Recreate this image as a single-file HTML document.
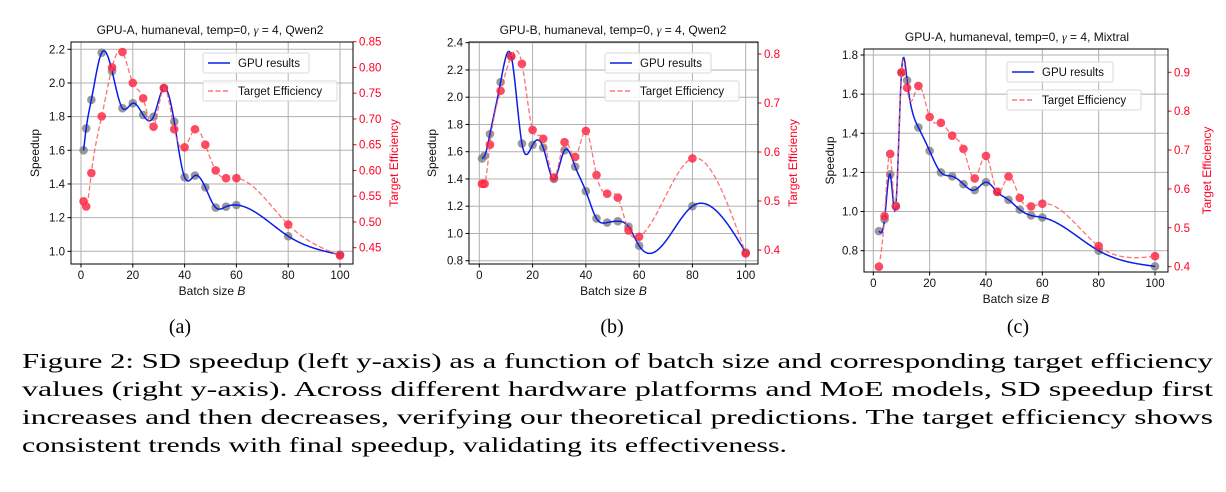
<!DOCTYPE html>
<html><head><meta charset="utf-8">
<style>
html,body{margin:0;padding:0;background:#fff;}
body{width:1226px;height:492px;position:relative;overflow:hidden;}
svg{position:absolute;left:0;top:0;}
</style></head><body>
<svg id="fig" width="1226" height="492" font-family="Liberation Sans, sans-serif">
<g font-family="Liberation Serif, serif" font-size="21" fill="#000">
<text x="22" y="368" textLength="1191" lengthAdjust="spacingAndGlyphs">Figure 2: SD speedup (left y-axis) as a function of batch size and corresponding target efficiency</text>
<text x="22" y="396" textLength="1191" lengthAdjust="spacingAndGlyphs">values (right y-axis).  Across different hardware platforms and MoE models, SD speedup first</text>
<text x="22" y="424" textLength="1191" lengthAdjust="spacingAndGlyphs">increases and then decreases, verifying our theoretical predictions.  The target efficiency shows</text>
<text x="22" y="452" textLength="765" lengthAdjust="spacingAndGlyphs">consistent trends with final speedup, validating its effectiveness.</text>
</g>
</svg>
<script>
// Chart (a)
const batchA = [1,2,4,8,12,16,20,24,28,32,36,40,44,48,52,56,60,80,100];
const speedA = [1.6,1.73,1.9,2.18,2.07,1.85,1.88,1.81,1.8,1.97,1.77,1.44,1.45,1.38,1.26,1.265,1.275,1.09,0.98];
const effA = [0.54,0.53,0.595,0.705,0.8,0.83,0.77,0.74,0.685,0.76,0.68,0.645,0.68,0.65,0.6,0.585,0.585,0.495,0.435];
const leftTicksA = [1.0,1.2,1.4,1.6,1.8,2.0,2.2];
const rightTicksA = [0.45,0.50,0.55,0.60,0.65,0.70,0.75,0.80,0.85];
// Chart (b)
const batchB = [1,2,4,8,12,16,20,24,28,32,36,40,44,48,52,56,60,80,100];
const speedB = [1.55,1.57,1.73,2.11,2.3,1.66,1.65,1.63,1.4,1.61,1.49,1.31,1.11,1.08,1.09,1.05,0.91,1.2,0.86];
const effB = [0.535,0.535,0.615,0.725,0.795,0.78,0.645,0.627,0.548,0.62,0.59,0.643,0.553,0.515,0.507,0.44,0.427,0.587,0.393];
const leftTicksB = [0.8,1.0,1.2,1.4,1.6,1.8,2.0,2.2,2.4];
const rightTicksB = [0.4,0.5,0.6,0.7,0.8];
// Chart (c)
const batchC = [2,4,6,8,10,12,16,20,24,28,32,36,40,44,48,52,56,60,80,100];
const speedC = [0.9,0.96,1.19,1.03,1.71,1.67,1.43,1.31,1.2,1.18,1.14,1.11,1.15,1.1,1.06,1.01,0.98,0.97,0.8,0.72];
const effC = [0.4,0.53,0.69,0.555,0.9,0.86,0.865,0.785,0.77,0.737,0.703,0.627,0.685,0.593,0.632,0.577,0.555,0.562,0.453,0.427];
const leftTicksC = [0.8,1.0,1.2,1.4,1.6,1.8];
const rightTicksC = [0.4,0.5,0.6,0.7,0.8,0.9];
const xTicks = [0,20,40,60,80,100];

const NS='http://www.w3.org/2000/svg';
const svg=document.getElementById('fig');
function mk(tag,attrs,parent,text){const e=document.createElementNS(NS,tag);for(const k in attrs)e.setAttribute(k,attrs[k]);if(text!==undefined)e.textContent=text;(parent||svg).appendChild(e);return e;}

function spline(xs,ys){
  const n=xs.length,h=[],al=[],l=[1],mu=[0],z=[0],c=new Array(n).fill(0),b=[],d=[];
  for(let i=0;i<n-1;i++)h.push(xs[i+1]-xs[i]);
  for(let i=1;i<n-1;i++)al[i]=3/h[i]*(ys[i+1]-ys[i])-3/h[i-1]*(ys[i]-ys[i-1]);
  for(let i=1;i<n-1;i++){l[i]=2*(xs[i+1]-xs[i-1])-h[i-1]*mu[i-1];mu[i]=h[i]/l[i];z[i]=(al[i]-h[i-1]*z[i-1])/l[i];}
  for(let j=n-2;j>=1;j--)c[j]=z[j]-mu[j]*c[j+1];
  for(let j=0;j<n-1;j++){b[j]=(ys[j+1]-ys[j])/h[j]-h[j]*(c[j+1]+2*c[j])/3;d[j]=(c[j+1]-c[j])/(3*h[j]);}
  return x=>{let j=0;while(j<n-2&&x>xs[j+1])j++;const t=x-xs[j];return ys[j]+b[j]*t+c[j]*t*t+d[j]*t*t*t;};
}
function fmt(v,dec){return v.toFixed(dec);}

function chart(cfg){
  const g=mk('g',{},svg);
  
  
  const X=v=>cfg.x0+(v-0)*(cfg.x100-cfg.x0)/100;
  const YL=v=>cfg.ly1+(v-cfg.lv1)*(cfg.ly2-cfg.ly1)/(cfg.lv2-cfg.lv1);
  const YR=v=>cfg.ry1+(v-cfg.rv1)*(cfg.ry2-cfg.ry1)/(cfg.rv2-cfg.rv1);
  const {l,t,r,b}=cfg.box;
  cfg.xt.forEach(v=>{const gl=mk('line',{x1:X(v),x2:X(v),y1:t,y2:b,stroke:'#b0b0b0','stroke-width':1},g);});
  cfg.lt.forEach(v=>{const gl=mk('line',{x1:l,x2:r,y1:YL(v),y2:YL(v),stroke:'#b0b0b0','stroke-width':1},g);});
  const ti=mk('text',{x:cfg.tx,y:cfg.ty,'text-anchor':'middle','font-size':12,fill:'#111'},g);
  
  ti.innerHTML=cfg.title1+'<tspan font-family="Liberation Serif, serif" font-style="italic">γ</tspan> = 4, '+cfg.title2;
  cfg.xt.forEach(v=>{mk('line',{x1:X(v),x2:X(v),y1:b,y2:b+3.5,stroke:'#000'},g);const tl=mk('text',{x:X(v),y:b+15,'text-anchor':'middle','font-size':11.5,fill:'#111'},g,String(v));});
  cfg.lt.forEach(v=>{mk('line',{x1:l-3.5,x2:l,y1:YL(v),y2:YL(v),stroke:'#000'},g);const tl=mk('text',{x:l-6,y:YL(v)+4,'text-anchor':'end','font-size':11.5,fill:'#111'},g,fmt(v,1));});
  cfg.rt.forEach(v=>{mk('line',{x1:r,x2:r+3.5,y1:YR(v),y2:YR(v),stroke:'#ff0022'},g);const tl=mk('text',{x:r+6,y:YR(v)+4,'text-anchor':'start','font-size':11.5,fill:'#ff0022'},g,fmt(v,cfg.rdec));});
  const xl=mk('text',{x:(l+r)/2,y:b+31,'text-anchor':'middle','font-size':12,fill:'#111'},g);
  xl.innerHTML='Batch size <tspan font-style="italic">B</tspan>';
  
  const yl=mk('text',{transform:`translate(${cfg.ylx},${(t+b)/2}) rotate(-90)`,'text-anchor':'middle','font-size':12,fill:'#111'},g,'Speedup');
  
  const yr=mk('text',{transform:`translate(${cfg.yrx},${(t+b)/2+10}) rotate(-90)`,'text-anchor':'middle','font-size':12,fill:'#ff0022'},g,'Target Efficiency');
  
  const xs=cfg.bx, sp=spline(xs,cfg.sp), ef=spline(xs,cfg.ef);
  let dS='',dE='';
  for(let k=0;k<=400;k++){const v=xs[0]+(xs[xs.length-1]-xs[0])*k/400;dS+=(k?'L':'M')+X(v).toFixed(2)+','+YL(sp(v)).toFixed(2);dE+=(k?'L':'M')+X(v).toFixed(2)+','+YR(ef(v)).toFixed(2);}
  const clip='clip-'+cfg.name;
  const cp=mk('clipPath',{id:clip},g);mk('rect',{x:l,y:t,width:r-l,height:b-t},cp);
  xs.forEach((v,i)=>{const c=mk('circle',{cx:X(v),cy:YL(cfg.sp[i]),r:4.3,fill:'#808080','fill-opacity':0.8},g);});
  const bl=mk('path',{d:dS,fill:'none',stroke:'#0a1ee6','stroke-width':1.5,'clip-path':`url(#${clip})`},g);
  
  xs.forEach((v,i)=>{const c=mk('circle',{cx:X(v),cy:YR(cfg.ef[i]),r:4.3,fill:'#ff1a3c','fill-opacity':0.8},g);});
  const rl=mk('path',{d:dE,fill:'none',stroke:'#ff5a5a','stroke-opacity':0.85,'stroke-width':1.3,'stroke-dasharray':'5,2.5','clip-path':`url(#${clip})`},g);
  
  mk('rect',{x:l,y:t,width:r-l,height:b-t,fill:'none',stroke:'#000','stroke-width':1},g);
  const L=cfg.leg;
  const l1=mk('g',{},g);
  mk('rect',{x:L[0],y:L[1],width:106,height:20,rx:2,fill:'#fff','fill-opacity':0.85,stroke:'#d8d8d8'},l1);
  mk('line',{x1:L[0]+5,x2:L[0]+27,y1:L[1]+10,y2:L[1]+10,stroke:'#0a1ee6','stroke-width':1.5},l1);
  mk('text',{x:L[0]+35,y:L[1]+14,'font-size':11.5,fill:'#111'},l1,'GPU results');
  const l2=mk('g',{},g);
  mk('rect',{x:L[0],y:L[1]+28,width:134,height:20,rx:2,fill:'#fff','fill-opacity':0.85,stroke:'#d8d8d8'},l2);
  mk('line',{x1:L[0]+5,x2:L[0]+27,y1:L[1]+38,y2:L[1]+38,stroke:'#ff5a5a','stroke-width':1.3,'stroke-dasharray':'5,2.5'},l2);
  mk('text',{x:L[0]+35,y:L[1]+42,'font-size':11.5,fill:'#111'},l2,'Target Efficiency');
  const sl=mk('text',{x:cfg.subx,y:333,'text-anchor':'middle','font-size':20,'font-family':'Liberation Serif, serif',fill:'#000'},svg,cfg.sub);
  
}
chart({name:'chart-a',box:{l:71,t:42,r:353,b:264},x0:81,x100:340,lv1:1.0,ly1:251.3,lv2:2.2,ly2:49.3,rv1:0.45,ry1:247.7,rv2:0.85,ry2:41.7,
  xt:xTicks,lt:leftTicksA,rt:rightTicksA,rdec:2,bx:batchA,sp:speedA,ef:effA,tx:210,ty:34,title1:'GPU-A, humaneval, temp=0, ',title2:'Qwen2',
  ylx:39,yrx:398,leg:[203,53],sub:'(a)',subx:180});
chart({name:'chart-b',box:{l:469,t:42,r:758,b:264},x0:479.3,x100:745.7,lv1:0.8,ly1:260.7,lv2:2.4,ly2:42.7,rv1:0.4,ry1:250,rv2:0.8,ry2:54,
  xt:xTicks,lt:leftTicksB,rt:rightTicksB,rdec:1,bx:batchB,sp:speedB,ef:effB,tx:613,ty:34,title1:'GPU-B, humaneval, temp=0, ',title2:'Qwen2',
  ylx:436,yrx:797,leg:[605,53],sub:'(b)',subx:612});
chart({name:'chart-c',box:{l:864,t:49,r:1168,b:272},x0:873.3,x100:1155,lv1:0.8,ly1:250.7,lv2:1.8,ly2:55,rv1:0.4,ry1:266.7,rv2:0.9,ry2:72.3,
  xt:xTicks,lt:leftTicksC,rt:rightTicksC,rdec:1,bx:batchC,sp:speedC,ef:effC,tx:1017,ty:41,title1:'GPU-A, humaneval, temp=0, ',title2:'Mixtral',
  ylx:834,yrx:1211,leg:[1007,62],sub:'(c)',subx:1018});
</script>
</body></html>
